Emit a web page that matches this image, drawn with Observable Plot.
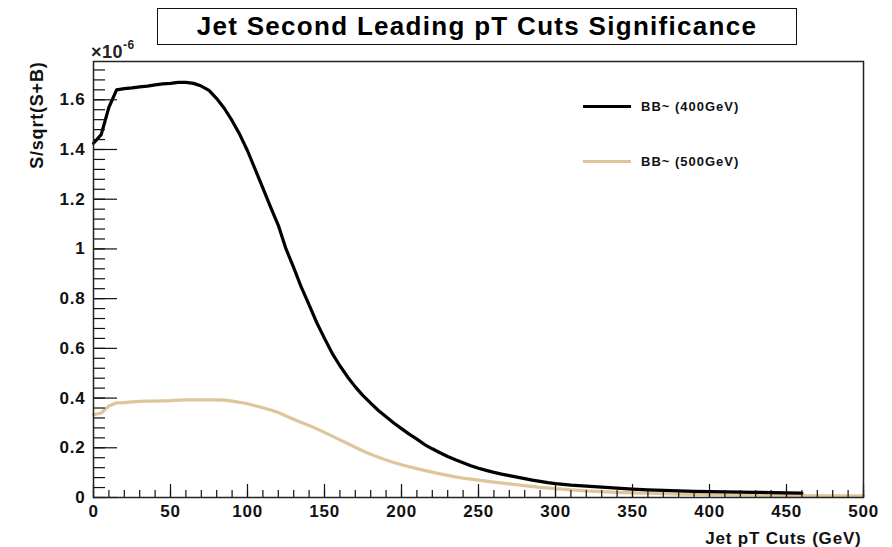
<!DOCTYPE html>
<html>
<head>
<meta charset="utf-8">
<script src="https://cdn.jsdelivr.net/npm/d3@7"></script>
<script src="https://cdn.jsdelivr.net/npm/@observablehq/plot@0.6"></script>
<style>
  html, body { margin: 0; padding: 0; background: #fff; }
  #wrap { position: relative; width: 892px; height: 547px; font-family: "Liberation Sans", Arial, sans-serif; }
  #chart { position: absolute; left: 0; top: 0; }
  #chart svg text { letter-spacing: 0.8px; }
  #title { position: absolute; left: 157px; top: 8px; width: 638px; height: 35px; border: 1.5px solid #111;
           font-weight: bold; font-size: 26px; letter-spacing: 1.3px; line-height: 35px; text-align: center; color: #000; background: #fff; }
  #expo { position: absolute; left: 91px; top: 40px; font-size: 18px; font-weight: bold; color: #222; letter-spacing: 0.5px; }
  #expo sup { font-size: 12px; position: relative; top: -2px; }
  .leg { position: absolute; display: flex; align-items: center; }
  .leg .sw { width: 48px; height: 0; border-top: 3px solid; margin-right: 10px; }
  .leg .lt { font-size: 13px; font-weight: bold; letter-spacing: 1px; color: #111; }
</style>
</head>
<body>
<div id="wrap">
  <div id="chart"></div>
  <div id="title"></div>
  <div id="expo">×10<sup>-6</sup></div>
  <div id="legend"></div>
</div>
<script>
// ---- data (values in units of 1e-6) ----
const titleText = "Jet Second Leading pT Cuts Significance";
const xTitle = "Jet pT Cuts (GeV)";
const yTitle = "S/sqrt(S+B)";
const seriesNames = ["BB~ (400GeV)", "BB~ (500GeV)"];
const seriesColors = ["#000000", "#dfc59b"];

const blackX = [0,5,10,15,20,25,30,35,40,45,50,55,60,65,70,75,80,85,90,95,100,105,110,115,120,125,130,135,140,145,150,155,160,165,170,175,180,185,190,195,200,205,210,215,220,225,230,235,240,245,250,255,260,265,270,275,280,285,290,295,300,310,320,330,340,350,360,370,380,390,400,410,420,430,440,450,460];
const blackY = [1.425,1.46,1.57,1.64,1.645,1.648,1.652,1.655,1.660,1.664,1.666,1.670,1.670,1.666,1.655,1.638,1.605,1.565,1.516,1.46,1.395,1.32,1.245,1.168,1.095,1.00,0.925,0.845,0.775,0.703,0.64,0.58,0.53,0.485,0.445,0.41,0.38,0.35,0.325,0.30,0.277,0.255,0.235,0.213,0.196,0.18,0.165,0.152,0.14,0.128,0.118,0.109,0.101,0.094,0.088,0.082,0.076,0.07,0.065,0.06,0.056,0.05,0.046,0.042,0.038,0.034,0.031,0.029,0.027,0.025,0.024,0.023,0.022,0.021,0.02,0.019,0.018];

const tanX = [0,5,10,15,20,25,30,35,40,45,50,55,60,65,70,75,80,85,90,95,100,105,110,115,120,125,130,135,140,145,150,155,160,165,170,175,180,185,190,195,200,205,210,215,220,225,230,235,240,245,250,260,270,280,290,300,310,320,330,340,350,360,370,380,390,400,410,420,430,440,450,460,470,480,490,500];
const tanY = [0.333,0.34,0.368,0.381,0.382,0.385,0.387,0.388,0.388,0.389,0.390,0.392,0.393,0.393,0.393,0.393,0.393,0.392,0.388,0.383,0.377,0.369,0.361,0.352,0.342,0.328,0.315,0.302,0.29,0.276,0.262,0.247,0.232,0.217,0.202,0.187,0.174,0.162,0.151,0.141,0.132,0.124,0.116,0.109,0.102,0.095,0.089,0.083,0.078,0.074,0.07,0.062,0.055,0.048,0.041,0.036,0.031,0.027,0.024,0.021,0.019,0.017,0.015,0.013,0.012,0.011,0.010,0.009,0.009,0.008,0.008,0.008,0.007,0.007,0.007,0.007];

const xMajor = [0,50,100,150,200,250,300,350,400,450,500];
const xMinor = d3.range(0, 501, 10);
const yMajor = [0,0.2,0.4,0.6,0.8,1,1.2,1.4,1.6];
const yMinor = d3.range(0, 1.75, 0.04).map(v => +v.toFixed(2));

// ---- build ----
const black = blackX.map((x, i) => ({x, y: blackY[i]}));
const tan = tanX.map((x, i) => ({x, y: tanY[i]}));

const W = 892, H = 547, mt = 61, mr = 29, mb = 50, ml = 93;
const fw = W - ml - mr, fh = H - mt - mb;

const chart = Plot.plot({
  width: W, height: H,
  marginTop: mt, marginRight: mr, marginBottom: mb, marginLeft: ml,
  style: {fontFamily: "'Liberation Sans', Arial, sans-serif", fontSize: "17px", fontWeight: "bold", color: "#111", background: "#fff"},
  x: {domain: [0, 500]},
  y: {domain: [0, 1.754]},
  marks: [
    Plot.line(tan, {x: "x", y: "y", stroke: seriesColors[1], strokeWidth: 3.2}),
    Plot.line(black, {x: "x", y: "y", stroke: seriesColors[0], strokeWidth: 3.2}),
    Plot.ruleX(xMinor, {x: d => d, insetTop: fh - 7, stroke: "#111", strokeWidth: 1.2}),
    Plot.ruleX(xMajor, {x: d => d, insetTop: fh - 13, stroke: "#111", strokeWidth: 1.2}),
    Plot.ruleY(yMinor, {y: d => d, insetRight: fw - 12, stroke: "#111", strokeWidth: 1.2}),
    Plot.ruleY(yMajor, {y: d => d, insetRight: fw - 24, stroke: "#111", strokeWidth: 1.2}),
    Plot.frame({stroke: "#222", strokeWidth: 1.5}),
    Plot.axisX(xMajor, {tickSize: 0, tickPadding: 7, label: null, tickFormat: d => String(d)}),
    Plot.axisY(yMajor, {tickSize: 0, tickPadding: 8, label: null, tickFormat: d => String(d)}),
    Plot.text([xTitle], {frameAnchor: "bottom-right", text: d => d, textAnchor: "end", lineAnchor: "bottom", dx: -2, dy: 46, fontSize: 17, fontWeight: "bold"}),
    Plot.text([yTitle], {frameAnchor: "top-left", text: d => d, textAnchor: "end", rotate: -90, dx: -63, dy: 0, fontSize: 18, fontWeight: "bold"})
  ]
});
document.getElementById("chart").appendChild(chart);
document.getElementById("title").textContent = titleText;

const legend = document.getElementById("legend");
const legTops = [98, 153];
seriesNames.forEach((name, i) => {
  const row = document.createElement("div");
  row.className = "leg";
  row.style.left = "583px";
  row.style.top = legTops[i] + "px";
  row.style.height = "16px";
  const sw = document.createElement("div");
  sw.className = "sw";
  sw.style.borderTopColor = seriesColors[i];
  const lt = document.createElement("div");
  lt.className = "lt";
  lt.textContent = name;
  row.appendChild(sw);
  row.appendChild(lt);
  legend.appendChild(row);
});
</script>
</body>
</html>
